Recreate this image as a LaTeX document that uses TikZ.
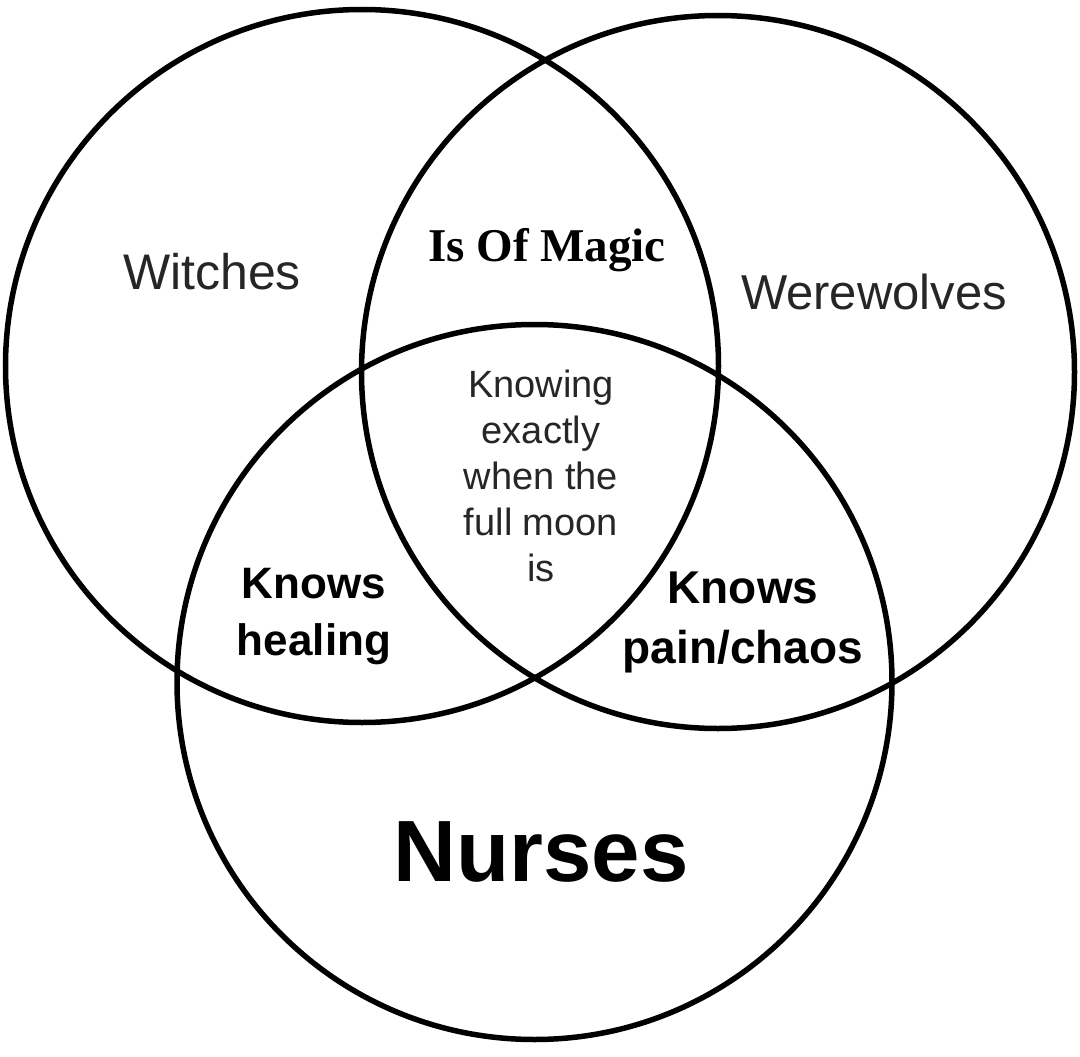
\documentclass[tikz,border=0pt]{standalone}
\usepackage{fontspec}
\setmainfont{Liberation Sans}
\newfontfamily\magicfont{Liberation Serif}
\begin{document}
\begin{tikzpicture}[x=1pt,y=-1pt,
  venn/.style={circle, draw=black, line width=5.5pt, inner sep=0pt, minimum size=713pt},
  lbl/.style={inner sep=0pt, align=center, text=black!85}]
\useasboundingbox[fill=white] (0,0) rectangle (1080,1057);
\node[venn] (witchc) at (362,366) {};
\node[venn] (wolfc) at (718,372) {};
\node[venn, minimum size=715pt] (nursec) at (534.5,682) {};
\node[lbl, font=\fontsize{50}{60}\selectfont] (witches) at (212,272) {Witches};
\node[lbl, font=\fontsize{49}{60}\selectfont] (wolves) at (874,292) {Werewolves};
\node[lbl, text=black, font=\magicfont\bfseries\fontsize{47}{56}\selectfont] (magic) at (547,250) {Is Of Magic};
\node[lbl, font=\fontsize{38}{46}\selectfont] (moon) at (541,476) {Knowing\\exactly\\when the\\full moon\\is};
\node[lbl, text=black, font=\bfseries\fontsize{44}{57}\selectfont] (heal) at (314,617) {Knows\\healing};
\node[lbl, text=black, font=\bfseries\fontsize{46}{60}\selectfont] (pain) at (743,622) {Knows\\pain/chaos};
\node[lbl, text=black, font=\bfseries\fontsize{87}{100}\selectfont] (nurses) at (541,852) {Nurses};
\end{tikzpicture}
\end{document}
